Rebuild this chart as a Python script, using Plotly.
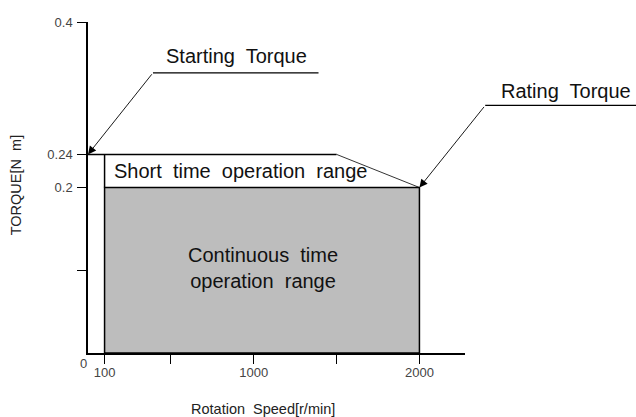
import plotly.graph_objects as go

# ---------------- data ----------------
speed_ticks = [100, 500, 1000, 1500, 2000]
speed_tick_labels = ["100", "", "1000", "", "2000"]
torque_ticks = [0.1, 0.2, 0.24, 0.4]
torque_tick_labels = ["", "0.2", "0.24", "0.4"]

min_speed = 100          # r/min
knee_speed = 1500        # r/min, end of flat short-time torque
rated_speed = 2000       # r/min
rated_torque = 0.2       # N m
starting_torque = 0.24   # N m

continuous_x = [min_speed, rated_speed, rated_speed, min_speed, min_speed]
continuous_y = [0, 0, rated_torque, rated_torque, 0]
short_top_x = [0, knee_speed]
short_top_y = [starting_torque, starting_torque]
short_side_x = [min_speed, min_speed]
short_side_y = [rated_torque, starting_torque]
short_slope_x = [knee_speed, rated_speed]
short_slope_y = [starting_torque, rated_torque]

x_max = 2275
y_max = 0.4

FONT = "Arial, Liberation Sans, sans-serif"

fig = go.Figure()

fig.add_trace(go.Scatter(x=continuous_x, y=continuous_y, mode="lines", fill="toself",
                         fillcolor="#bdbdbd", line=dict(color="black", width=1.5),
                         hoverinfo="skip", showlegend=False))
fig.add_trace(go.Scatter(x=short_top_x, y=short_top_y, mode="lines",
                         line=dict(color="black", width=1.5), hoverinfo="skip", showlegend=False))
fig.add_trace(go.Scatter(x=short_side_x, y=short_side_y, mode="lines",
                         line=dict(color="black", width=1.5), hoverinfo="skip", showlegend=False))
fig.add_trace(go.Scatter(x=short_slope_x, y=short_slope_y, mode="lines",
                         line=dict(color="black", width=0.8), hoverinfo="skip", showlegend=False))

def px(x):
    return x / x_max

def py(y):
    return y / y_max

big = dict(family=FONT, size=20, color="#111")

# Starting torque callout
st_tail = (392, 0.3386)
fig.add_annotation(x=0, y=starting_torque, ax=st_tail[0], ay=st_tail[1], axref="x", ayref="y",
                   text="", showarrow=True, arrowhead=2, arrowsize=1.8, arrowwidth=0.9,
                   arrowcolor="black", standoff=0)
fig.add_shape(type="line", x0=st_tail[0], x1=1391, y0=st_tail[1], y1=st_tail[1],
              xref="x", yref="y", line=dict(color="black", width=1.3))
fig.add_annotation(x=897, y=0.3595, text="Starting\u00a0 Torque", showarrow=False, font=big,
                   xanchor="center", yanchor="middle")

# Rating torque callout
rt_tail = (2397, 0.2992)
fig.add_annotation(x=rated_speed, y=rated_torque, ax=rt_tail[0], ay=rt_tail[1], axref="x", ayref="y",
                   text="", showarrow=True, arrowhead=2, arrowsize=1.8, arrowwidth=0.9,
                   arrowcolor="black", standoff=0)
fig.add_shape(type="line", x0=px(rt_tail[0]), x1=px(3320), y0=py(rt_tail[1]), y1=py(rt_tail[1]),
              xref="paper", yref="paper", line=dict(color="black", width=1.3))
fig.add_annotation(x=px(3290), xref="paper", y=0.3164, yref="y", text="Rating\u00a0 Torque",
                   showarrow=False, font=big, xanchor="right", yanchor="middle")

# region labels
fig.add_annotation(x=146, y=0.2194, xanchor="left", yanchor="middle",
                   text="Short\u00a0 time\u00a0 operation\u00a0 range", showarrow=False, font=big)
fig.add_annotation(x=1053, y=0.103, text="Continuous\u00a0 time<br>operation\u00a0 range",
                   showarrow=False, font=big, xanchor="center", yanchor="middle")

# origin label and axis titles
fig.add_annotation(x=px(-27), xref="paper", y=py(-0.0124), yref="paper", text="0", showarrow=False,
                   xanchor="center", yanchor="middle",
                   font=dict(family=FONT, size=13, color="#444"))
fig.add_annotation(x=1054, y=-0.169, yref="paper", text="Rotation\u00a0 Speed[r/min]", showarrow=False,
                   xanchor="center", yanchor="middle",
                   font=dict(family=FONT, size=14.5, color="#222"))
fig.add_annotation(x=-0.191, xref="paper", y=0.2027, text="TORQUE[N\u00a0 m]", textangle=-90,
                   xanchor="center", yanchor="middle",
                   showarrow=False, font=dict(family=FONT, size=14.5, color="#222"))

axis_common = dict(showgrid=False, zeroline=False, showline=True, linecolor="black", linewidth=1.5,
                   ticks="outside", ticklen=9, tickwidth=1.3, tickcolor="black",
                   tickfont=dict(family=FONT, size=13, color="#444"), fixedrange=True,
                   automargin=False)

fig.update_xaxes(range=[0, x_max], tickmode="array", tickvals=speed_ticks, ticktext=speed_tick_labels,
                 ticklabelstandoff=-2, **axis_common)
fig.update_yaxes(range=[0, y_max], tickmode="array", tickvals=torque_ticks, ticktext=torque_tick_labels,
                 ticklabelstandoff=2, **axis_common)

fig.update_layout(width=636, height=417, margin=dict(l=88, r=171, t=22, b=64),
                  plot_bgcolor="white", paper_bgcolor="white", showlegend=False)

# remove the default 8 px page margin so the figure fills the window exactly
fig.write_html("out.html", config={"displayModeBar": False},
               post_script="document.body.style.margin='0';")
